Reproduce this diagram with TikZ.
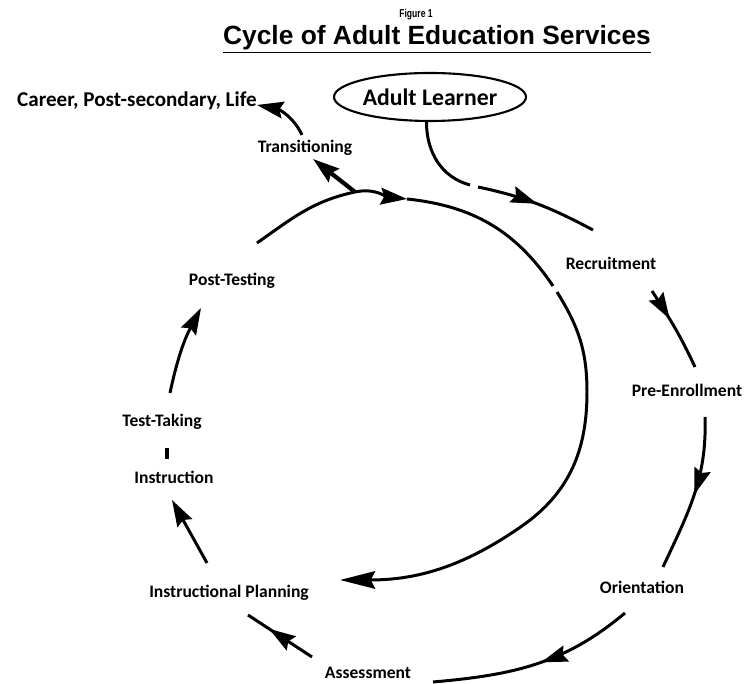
\documentclass[tikz,border=0pt]{standalone}
\usepackage{fontspec}
\setmainfont{Carlito}
\newfontfamily\arialfont{Liberation Sans}
\usetikzlibrary{arrows.meta,decorations.markings,shapes.geometric}

\begin{document}
\begin{tikzpicture}[x=0.2mm,y=0.2mm,line width=1.7pt,>={Stealth[length=15pt,width=9.5pt,inset=2pt]}]
      \tikzstyle{lbl} = [font=\bfseries\fontsize{10}{12}\selectfont, inner sep=1pt]
      \tikzset{midtip/.style={postaction={decorate},
          decoration={markings, mark=at position #1 with {\arrow{>}}}}}
      \useasboundingbox (0,0) rectangle (748,684);

      % heading
      \node (fig) at (416,669) {\arialfont\bfseries\fontsize{6.5}{8}\selectfont\scalebox{0.75}[1]{Figure 1}};
      \node (title) at (437,645) {\arialfont\bfseries\fontsize{15}{18}\selectfont\underline{Cycle of Adult Education Services}};

      \node[draw, ellipse, line width=1.2pt, minimum width=38.4mm, minimum height=9.6mm, inner sep=0pt,
        font=\bfseries\fontsize{13.5}{16}\selectfont] (learner) at (430,587) {Adult Learner};
      \node[lbl, font=\bfseries\fontsize{12}{14}\selectfont] (career) at (137,583) {Career, Post-secondary, Life};
      \node[lbl] (trans) at (305,536) {Transitioning};
      \node[lbl] (recruit) at (611,421) {Recruitment};
      \node[lbl] (preenr) at (687,294) {Pre-Enrollment};
      \node[lbl] (orient) at (642,97) {Orientation};
      \node[lbl] (assess) at (368,11) {Assessment};
      \node[lbl] (planning) at (229,91) {Instructional Planning};
      \node[lbl] (instr) at (174,207) {Instruction};
      \node[lbl] (testtake) at (162,262) {Test-Taking};
      \node[lbl] (posttest) at (232,403) {Post-Testing};

      % big loop
      \coordinate (s) at (257,441);
      \coordinate (j) at (355,492);
      \coordinate (h) at (407,485);
      \coordinate (g1) at (553,398);
      \coordinate (g2) at (557,392);
      \coordinate (r) at (587,292);
      \coordinate (k) at (522,158);
      \coordinate (e) at (340,104);
      \draw[->] (s) to[out=35,in=192] (j) to[out=12,in=174] (h);
      \draw (h) to[out=-6,in=124] (g1);
      \draw[-{Stealth[length=20pt,width=10pt,inset=2.5pt]}] (g2) to[out=-58,in=90] (r)
        to[out=-90,in=35] (k) to[out=-145,in=0] (e);

      % way out
      \coordinate (t1) at (313,525);
      \coordinate (c0) at (302,549);
      \coordinate (c1) at (257,579);
      \draw[->, line width=2.4pt] (j) -- (t1);
      \draw[->] (c0) to[out=115,in=-11] (c1);

      % way in
      \coordinate (d1) at (470,499);
      \coordinate (d2) at (478,497);
      \coordinate (d3) at (593,454);
      \draw (learner.262) to[out=-90,in=165] (d1);
      \draw[midtip=0.5] (d2) to[out=-12,in=152] (d3);

      % outer steps
      \coordinate (p0) at (652,393);
      \coordinate (p1) at (695,317);
      \coordinate (q0) at (705,267);
      \coordinate (q1) at (663,117);
      \coordinate (o0) at (625,71);
      \coordinate (o1) at (433,2);
      \coordinate (a0) at (312,27);
      \coordinate (a1) at (248,69);
      \coordinate (n0) at (207,121);
      \coordinate (n1) at (172,184);
      \coordinate (i0) at (167,225);
      \coordinate (i1) at (167,236);
      \coordinate (u0) at (170,291);
      \coordinate (u1) at (201,376);
      \draw[midtip=0.38] (p0) to[out=-57,in=115] (p1);
      \draw[midtip=0.5] (q0) to[out=-88,in=65] (q1);
      \draw[midtip=0.47] (o0) to[out=-140,in=5] (o1);
      \draw[midtip=0.67] (a0) -- (a1);
      \draw[->] (n0) -- (n1);
      \draw[line width=2.4pt] (i0) -- (i1);
      \draw[->] (u0) to[out=78,in=-118] (u1);
\end{tikzpicture}
\end{document}
